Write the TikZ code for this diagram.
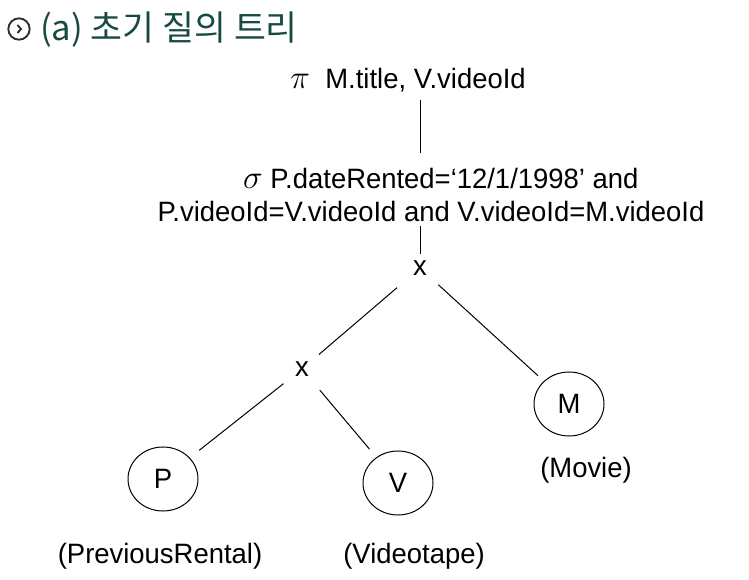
\documentclass[tikz,border=0pt]{standalone}
\usepackage{fontspec}
\setmainfont{Liberation Sans}[FakeStretch=0.98]
\newfontfamily\krfont{Noto Sans CJK KR}
\usepackage{tikz}
\usetikzlibrary{shapes.geometric, positioning, calc}
\definecolor{titleteal}{RGB}{24,74,68}
\definecolor{icongray}{RGB}{45,45,45}
\tikzset{
  treefont/.style={font=\fontsize{21}{24.75}\selectfont},
  opnode/.style={treefont,circle,inner sep=0pt,minimum size=21pt},
  relnode/.style={treefont,ellipse,draw,line width=0.75pt,inner sep=0pt,minimum width=52.5pt,minimum height=48pt},
  labnode/.style={treefont,inner sep=0pt,align=center},
  treeedge/.style={line width=0.75pt}
}

\begin{document}
\begin{tikzpicture}[x=0.75pt,y=-0.75pt]
  \useasboundingbox (0,0) rectangle (749,580);

  % title
  \node[circle,draw=icongray,line width=1.4pt,minimum size=16pt,inner sep=0pt] (icon) at (19,29) {};
  \draw[icongray,line width=1.4pt] ([shift={(-1.5,-4)}]icon.center) -- ++(3.5,4) -- ++(-3.5,4);
  \node[anchor=west,inner sep=0pt,text=titleteal,font=\krfont\fontsize{26}{30}\selectfont] (title) at (40,30) {(a) 초기 질의 트리};

  % operators
  \node[labnode] (proj) at (408,80) {{\fontsize{27}{30}\selectfont$\pi$}\hspace{0.55em}M.title, V.videoId};
  \node[labnode] (sel) at (431,195) {\hspace*{0.7em}{\fontsize{24}{28}\selectfont$\sigma$} P.dateRented=‘12/1/1998’ and\\P.videoId=V.videoId and V.videoId=M.videoId};
  \node[opnode] (topx) at (420,268) {x};
  \node[opnode] (midx) at (302,369) {x};

  % relations
  \node[relnode] (prel) at (163,479) {P};
  \node[relnode] (vrel) at (398,483) {V};
  \node[relnode] (mrel) at (569,404) {M};
  \node[labnode] (pname) at (160,556) {(PreviousRental)};
  \node[labnode] (vname) at (414,556) {(Videotape)};
  \node[labnode] (mname) at (586,470) {(Movie)};

  \draw[treeedge,shorten <=6pt,shorten >=11pt] (proj.south -| topx) -- (sel.north -| topx);
  \draw[treeedge,shorten <=3pt] (sel.south -| topx) -- (topx);
  \draw[treeedge,shorten <=12pt,shorten >=6pt] (topx) -- (midx);
  \draw[treeedge,shorten <=8pt,shorten >=6pt] (topx) -- (mrel);
  \draw[treeedge,shorten <=7pt,shorten >=9pt] (midx) -- (prel);
  \draw[treeedge,shorten <=10pt,shorten >=8pt] (midx) -- (vrel);
\end{tikzpicture}
\end{document}
